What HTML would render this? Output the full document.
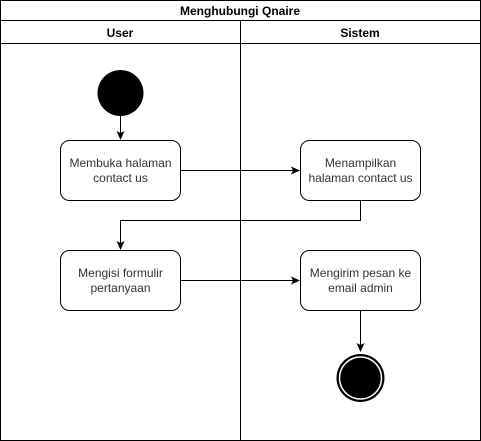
<!DOCTYPE html>
<html><head><style>body{margin:0;background:#fff}svg{display:block}</style></head><body>
<svg width="481" height="441" viewBox="0 0 481 441" xmlns="http://www.w3.org/2000/svg" font-family="Liberation Sans, Arial, sans-serif">
<defs><marker id="a" markerWidth="10" markerHeight="10" refX="8" refY="4" orient="auto" markerUnits="userSpaceOnUse"><path d="M0,0 L9,4 L0,8 L2,4 Z" fill="#000"/></marker></defs>
<rect x="0.5" y="0.5" width="480" height="440" fill="#fff" stroke="#000"/>
<line x1="0" y1="20.5" x2="481" y2="20.5" stroke="#000"/>
<line x1="0" y1="43.5" x2="481" y2="43.5" stroke="#000"/>
<line x1="240.5" y1="20" x2="240.5" y2="441" stroke="#000"/>
<text x="240" y="15" font-size="12" font-weight="bold" text-anchor="middle">Menghubungi Qnaire</text>
<text x="120" y="37" font-size="12" font-weight="bold" text-anchor="middle">User</text>
<text x="360" y="37" font-size="12" font-weight="bold" text-anchor="middle">Sistem</text>
<circle cx="120.5" cy="93" r="23" fill="#000"/>
<line x1="120.5" y1="116" x2="120.5" y2="139" stroke="#000" marker-end="url(#a)"/>
<g fill="#fff" stroke="#000">
<rect x="60.5" y="140.5" width="120" height="60" rx="9"/>
<rect x="300.5" y="140.5" width="120" height="60" rx="9"/>
<rect x="60.5" y="250.5" width="120" height="60" rx="9"/>
<rect x="300.5" y="250.5" width="120" height="60" rx="9"/>
</g>
<g fill="none" stroke="#000">
<line x1="180.5" y1="170.5" x2="299" y2="170.5" marker-end="url(#a)"/>
<polyline points="360.5,200.5 360.5,220.5 120.5,220.5 120.5,249" marker-end="url(#a)"/>
<line x1="180.5" y1="280.5" x2="299" y2="280.5" marker-end="url(#a)"/>
<line x1="360.5" y1="310.5" x2="360.5" y2="351" marker-end="url(#a)"/>
</g>
<circle cx="360.5" cy="378" r="24" fill="#000"/>
<circle cx="360.5" cy="378" r="21" fill="none" stroke="#fff" stroke-width="1.5"/>
<g font-size="12" fill="#333" text-anchor="middle">
<text x="120.5" y="167">Membuka halaman</text><text x="120.5" y="182">contact us</text>
<text x="360.5" y="167">Menampilkan</text><text x="360.5" y="182">halaman contact us</text>
<text x="120.5" y="277">Mengisi formulir</text><text x="120.5" y="292">pertanyaan</text>
<text x="360.5" y="277">Mengirim pesan ke</text><text x="360.5" y="292">email admin</text>
</g>
</svg>
</body></html>
